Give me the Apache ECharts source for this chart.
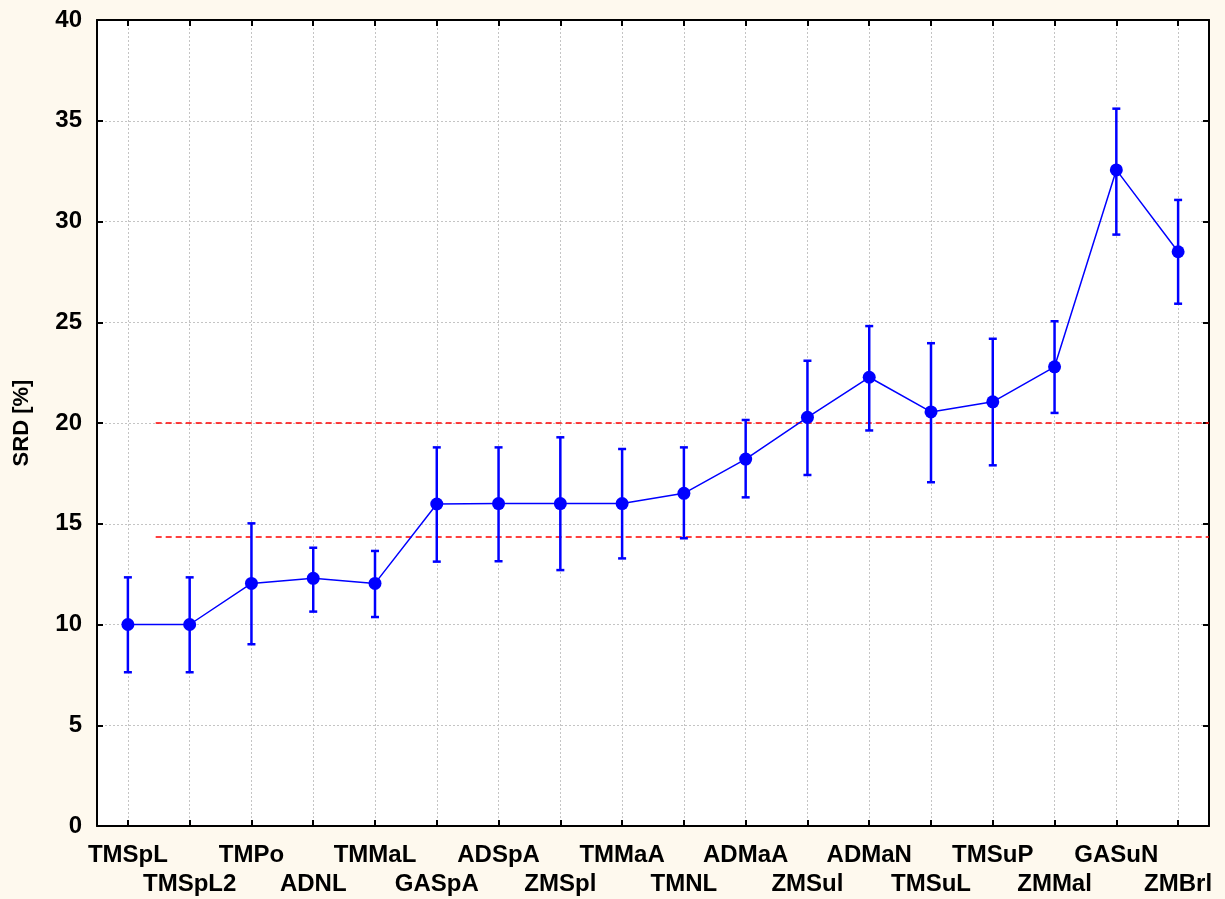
<!DOCTYPE html>
<html>
<head>
<meta charset="utf-8">
<script src="https://cdn.jsdelivr.net/npm/echarts@6/dist/echarts.min.js"></script>
<style>
html,body{margin:0;padding:0;background:#FEF9EE;}
#chart{width:1225px;height:899px;}
</style>
</head>
<body>
<div id="chart"></div>
<script>
const categories = ['TMSpL','TMSpL2','TMPo','ADNL','TMMaL','GASpA','ADSpA','ZMSpl','TMMaA','TMNL','ADMaA','ZMSul','ADMaN','TMSuL','TMSuP','ZMMal','GASuN','ZMBrl'];
const means = [10.0, 10.0, 12.04, 12.29, 12.04, 15.98, 16.0, 16.0, 16.0, 16.51, 18.21, 20.28, 22.27, 20.55, 21.05, 22.79, 32.56, 28.5];
const lower = [7.63, 7.63, 9.02, 10.64, 10.37, 13.12, 13.14, 12.7, 13.28, 14.28, 16.31, 17.42, 19.63, 17.06, 17.9, 20.5, 29.35, 25.92];
const upper = [12.34, 12.34, 15.02, 13.81, 13.65, 18.79, 18.79, 19.29, 18.71, 18.79, 20.15, 23.09, 24.81, 23.96, 24.18, 25.05, 35.6, 31.07];
const refLevels = [20, 14.34];
const refStart = 0.45;
const refEnd = 17.5;
const yTicks = [0, 5, 10, 15, 20, 25, 30, 35, 40];

const errData = categories.map((c, i) => [i, lower[i], upper[i]]);

const chart = echarts.init(document.getElementById('chart'));
const labelFont = {fontFamily: '"Liberation Sans", Arial, sans-serif', fontWeight: 'bold', color: '#000'};

const refSeries = refLevels.map(v => ({
  type: 'line',
  xAxisIndex: 2,
  yAxisIndex: 0,
  data: [[refStart, v], [refEnd, v]],
  symbol: 'none',
  silent: true,
  lineStyle: {color: '#FF0000', type: [6, 4], width: 1.5},
  z: 2
}));

chart.setOption({
  backgroundColor: '#FEF9EE',
  animation: false,
  grid: {left: 97, right: 16, top: 20, bottom: 73, show: true, backgroundColor: '#FFFFFF', borderWidth: 0},
  xAxis: [
    {
      type: 'category',
      data: categories,
      boundaryGap: true,
      position: 'bottom',
      axisLine: {show: true, onZero: false, lineStyle: {color: '#000', width: 2}},
      axisTick: {show: true, inside: true, length: 6, alignWithLabel: true, interval: 0, lineStyle: {color: '#000', width: 2}},
      axisLabel: Object.assign({
        interval: 0, fontSize: 24, lineHeight: 29, margin: 15,
        formatter: (v, i) => (i % 2 ? '\n' + v : v)
      }, labelFont),
      splitLine: {show: true, alignWithLabel: true, interval: 0, lineStyle: {color: '#C4C4C4', type: [2, 2], width: 1}}
    },
    {
      type: 'category',
      data: categories,
      boundaryGap: true,
      position: 'top',
      axisLine: {show: true, onZero: false, lineStyle: {color: '#000', width: 2}},
      axisTick: {show: true, inside: true, length: 6, alignWithLabel: true, interval: 0, lineStyle: {color: '#000', width: 2}},
      axisLabel: {show: false},
      splitLine: {show: false}
    },
    {
      type: 'value',
      min: -0.5,
      max: 17.5,
      show: false
    }
  ],
  yAxis: [
    {
      type: 'value',
      min: 0, max: 40, interval: 5,
      position: 'left',
      name: 'SRD [%]',
      nameLocation: 'middle',
      nameGap: 64,
      nameTextStyle: Object.assign({fontSize: 22}, labelFont),
      axisLine: {show: true, onZero: false, lineStyle: {color: '#000', width: 2}},
      axisTick: {show: true, inside: true, length: 6, lineStyle: {color: '#000', width: 2}},
      axisLabel: Object.assign({fontSize: 24, margin: 15, formatter: v => yTicks.includes(v) ? String(v) : ''}, labelFont),
      splitLine: {show: true, lineStyle: {color: '#C4C4C4', type: [2, 2], width: 1}}
    },
    {
      type: 'value',
      min: 0, max: 40, interval: 5,
      position: 'right',
      axisLine: {show: true, onZero: false, lineStyle: {color: '#000', width: 2}},
      axisTick: {show: true, inside: true, length: 6, lineStyle: {color: '#000', width: 2}},
      axisLabel: {show: false},
      splitLine: {show: false}
    }
  ],
  series: refSeries.concat([
    {
      type: 'custom',
      xAxisIndex: 0,
      yAxisIndex: 0,
      data: errData,
      z: 3,
      renderItem: function (params, api) {
        const x = api.value(0);
        const lo = api.coord([x, api.value(1)]);
        const hi = api.coord([x, api.value(2)]);
        const cap = 4;
        const style = {stroke: '#0000FF', lineWidth: 2.5};
        return {
          type: 'group',
          children: [
            {type: 'line', shape: {x1: lo[0], y1: lo[1], x2: hi[0], y2: hi[1]}, style: style},
            {type: 'line', shape: {x1: lo[0] - cap, y1: lo[1], x2: lo[0] + cap, y2: lo[1]}, style: style},
            {type: 'line', shape: {x1: hi[0] - cap, y1: hi[1], x2: hi[0] + cap, y2: hi[1]}, style: style}
          ]
        };
      }
    },
    {
      type: 'line',
      xAxisIndex: 0,
      yAxisIndex: 0,
      data: means,
      symbol: 'circle',
      symbolSize: 13,
      itemStyle: {color: '#0000FF'},
      lineStyle: {color: '#0000FF', width: 1.5},
      z: 4
    }
  ])
});
</script>
</body>
</html>
